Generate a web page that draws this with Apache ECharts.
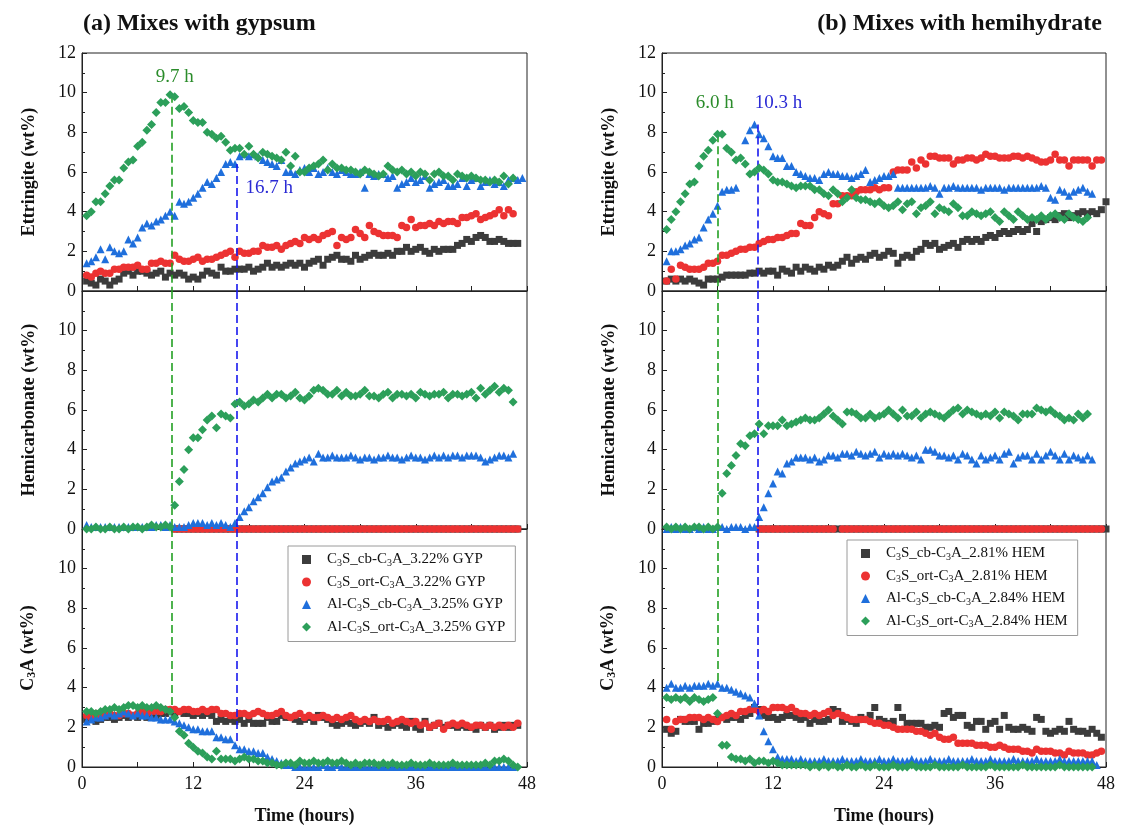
<!DOCTYPE html>
<html>
<head>
<meta charset="utf-8">
<script src="https://cdn.jsdelivr.net/npm/echarts@6/dist/echarts.min.js"></script>
<style>
html,body{margin:0;padding:0;background:#fff;}
#chart{width:1121px;height:828px;}
</style>
</head>
<body>
<div id="chart"></div>
<script>
// ---------- DATA ----------
const T = [0.5,1,1.5,2,2.5,3,3.5,4,4.5,5, 5.5,6,6.5,7,7.5,8,8.5,9,9.5,10, 10.5,11,11.5,12,12.5,13,13.5,14,14.5,15, 15.5,16,16.5,17,17.5,18,18.5,19,19.5,20, 20.5,21,21.5,22,22.5,23,23.5,24,24.5,25, 25.5,26,26.5,27,27.5,28,28.5,29,29.5,30, 30.5,31,31.5,32,32.5,33,33.5,34,34.5,35, 35.5,36,36.5,37,37.5,38,38.5,39,39.5,40, 40.5,41,41.5,42,42.5,43,43.5,44,44.5,45, 45.5,46,46.5,47,47.5,48];

const xTicks = [0,12,24,36,48];

const namesGYP = ['C3S_cb-C3A_3.22% GYP','C3S_ort-C3A_3.22% GYP','Al-C3S_cb-C3A_3.25% GYP','Al-C3S_ort-C3A_3.25% GYP'];
const namesHEM = ['C3S_cb-C3A_2.81% HEM','C3S_ort-C3A_2.81% HEM','Al-C3S_cb-C3A_2.84% HEM','Al-C3S_ort-C3A_2.84% HEM'];

// (a) gypsum - Ettringite
const gEttBlack = [0.5,0.4,0.3,0.6,0.5,0.3,0.5,0.6,0.9,1.0, 0.8,1.0,1.0,0.9,0.8,0.9,1.0,0.7,0.9,0.8, 0.9,0.8,0.6,0.7,0.6,0.8,1.0,0.9,0.8,1.2, 1.0,1.0,1.1,1.1,1.1,1.2,1.0,1.1,1.2,1.4, 1.2,1.3,1.2,1.3,1.4,1.3,1.4,1.2,1.4,1.5, 1.6,1.3,1.6,1.7,1.8,1.6,1.6,1.5,1.8,1.6, 1.7,1.8,1.9,1.8,1.8,1.9,1.8,2.0,2.0,2.2, 2.0,2.1,2.2,2.0,1.9,2.1,2.0,2.1,2.1,2.1, 2.3,2.4,2.6,2.5,2.7,2.8,2.7,2.5,2.5,2.6, 2.5,2.4,2.4,2.4];
const gEttRed = [0.8,0.7,0.9,1.0,0.9,0.9,1.1,1.1,1.2,1.2, 1.2,1.3,1.1,1.1,1.4,1.4,1.5,1.4,1.4,1.8, 1.6,1.5,1.5,1.6,1.7,1.5,1.6,1.6,1.7,1.8, 1.9,2.0,1.7,2.0,1.9,1.9,2.0,2.0,2.3,2.2, 2.2,2.3,2.1,2.3,2.4,2.5,2.4,2.7,2.6,2.7, 2.6,2.8,2.9,3.0,2.3,2.7,2.6,2.7,3.1,2.9, 2.7,3.3,3.0,2.9,2.8,2.8,2.8,2.7,3.3,3.2, 3.6,3.2,3.3,3.3,3.4,3.3,3.5,3.4,3.5,3.5, 3.4,3.7,3.7,3.8,3.9,3.6,3.7,3.8,3.9,4.1, 3.8,4.1,3.9];
const gEttBlue = [1.4,1.5,1.7,2.1,1.6,2.2,2.0,1.9,2.0,2.6, 2.4,2.7,3.2,3.4,3.3,3.5,3.6,3.8,4.0,3.8, 4.5,4.4,4.5,4.7,4.9,5.2,5.5,5.4,5.7,6.0, 6.4,6.5,6.4,6.8,6.9,6.8,6.9,6.8,6.6,6.5, 6.4,6.3,6.6,6.0,6.0,5.9,6.1,6.2,6.0,6.2, 5.9,6.0,6.2,6.0,5.9,6.1,6.0,5.9,5.9,6.0, 5.2,5.9,5.8,5.9,5.9,5.7,5.8,5.2,5.4,5.5, 5.7,5.5,5.6,5.8,5.2,5.4,5.5,5.6,5.3,5.3, 5.4,5.7,5.3,5.6,5.7,5.3,5.5,5.6,5.4,5.5, 5.3,5.6,5.7,5.6,5.7];
const gEttGreen = [3.8,4.0,4.5,4.5,4.9,5.3,5.6,5.6,6.2,6.5, 6.6,7.3,7.5,8.1,8.4,9.0,9.5,9.5,9.9,9.8, 9.2,9.3,9.0,8.6,8.5,8.5,8.0,7.9,7.7,7.8, 7.5,7.1,7.2,7.2,6.9,7.3,6.9,6.7,7.0,6.9, 6.8,6.7,6.6,7.0,6.3,6.8,6.0,6.0,6.2,6.3, 6.4,6.6,6.1,6.4,6.2,6.2,6.1,6.1,6.0,5.9, 6.1,6.0,5.9,5.8,5.9,6.3,6.1,6.0,6.1,5.9, 6.0,5.8,6.0,5.9,5.6,5.9,6.0,5.8,5.8,5.6, 5.9,5.8,5.7,5.8,5.7,5.6,5.6,5.5,5.6,5.5, 5.8,5.4,5.7];

// (a) gypsum - Hemicarbonate
const gHemBlack = [null,null,null,null,null,null,null,null,null,null, null,null,null,null,null,null,null,null,null,0, 0,0,0,0,0,0,0,0,0,0, 0,0,0,0,0,0,0,0,0,0, 0,0,0,0,0,0,0,0,0,0, 0,0,0,0,0,0,0,0,0,0, 0,0,0,0,0,0,0,0,0,0, 0,0,0,0,0,0,0,0,0,0, 0,0,0,0,0,0,0,0,0,0, 0,0,0,0];
const gHemRed = [null,null,null,null,null,null,null,null,null,null, null,null,null,null,null,null,null,null,null,0, 0,0,0,0,0,0,0,0,0,0, 0,0,0,0,0,0,0,0,0,0, 0,0,0,0,0,0,0,0,0,0, 0,0,0,0,0,0,0,0,0,0, 0,0,0,0,0,0,0,0,0,0, 0,0,0,0,0,0,0,0,0,0, 0,0,0,0,0,0,0,0,0,0, 0,0,0,0];
const gHemBlue = [0.2,0.1,0.1,0.1,0.1,0.1,0.1,0.1,0.1,0.1, 0.1,0.1,0.1,0.1,0.1,0.2,0.2,0.1,0.2,0.1, 0.1,0.1,0.2,0.3,0.3,0.3,0.2,0.3,0.2,0.3, 0.2,0.1,0.3,0.6,0.9,1.1,1.4,1.6,1.8,2.1, 2.4,2.5,2.6,2.9,3.1,3.3,3.4,3.5,3.6,3.4, 3.8,3.6,3.6,3.7,3.6,3.6,3.6,3.7,3.6,3.5, 3.6,3.6,3.5,3.6,3.6,3.7,3.6,3.6,3.5,3.6, 3.7,3.6,3.6,3.5,3.6,3.7,3.6,3.7,3.6,3.7, 3.7,3.6,3.7,3.7,3.7,3.6,3.4,3.5,3.6,3.7, 3.7,3.6,3.8];
const gHemGreen = [0.0,0.0,0.1,0.0,0.0,0.1,0.0,0.0,0.1,0.0, 0.1,0.1,0.0,0.1,0.2,0.1,0.1,0.2,0.1,1.2, 2.4,3.0,4.0,4.6,4.6,5.0,5.5,5.7,5.1,5.8, 5.7,5.6,6.3,6.4,6.2,6.3,6.5,6.4,6.6,6.8, 6.6,6.8,6.8,6.6,6.7,6.9,6.6,6.5,6.7,7.0, 7.1,7.0,6.8,6.8,7.0,6.7,6.9,6.7,6.7,6.8, 7.0,6.7,6.7,6.6,6.8,6.9,6.6,6.8,6.8,6.7, 6.8,6.6,6.9,6.8,6.7,6.8,6.8,6.9,6.6,6.8, 6.8,6.7,6.8,6.9,6.6,7.1,6.8,7.0,7.2,6.9, 7.1,7.0,6.4];

// (a) gypsum - C3A
const gC3aBlack = [2.4,2.5,2.3,2.4,2.5,2.5,2.4,2.5,2.6,2.5, 2.6,2.5,2.6,2.5,2.6,2.6,2.7,2.7,2.8,2.7, 2.8,2.7,2.7,2.6,2.7,2.6,2.7,2.6,2.3,2.4, 2.3,2.4,2.3,2.4,2.2,2.4,2.2,2.2,2.2,2.5, 2.3,2.3,2.6,2.5,2.5,2.4,2.3,2.4,2.5,2.3, 2.6,2.5,2.4,2.2,2.1,2.2,2.3,2.2,2.1,2.2, 2.3,2.2,2.5,2.1,2.2,2.0,2.1,2.2,2.1,2.0, 2.3,2.0,1.9,2.3,2.0,2.1,2.2,2.0,2.1,2.1, 2.0,2.1,2.0,2.0,1.9,2.1,2.0,2.1,1.9,2.0, 2.1,2.0,2.1,2.1];
const gC3aRed = [2.6,2.5,2.7,2.5,2.6,2.7,2.6,2.6,2.7,2.7, 2.6,2.7,2.8,2.7,2.8,2.8,2.8,2.9,2.9,2.9, 2.8,2.9,2.9,2.8,2.8,2.9,2.8,2.9,2.9,2.7, 2.7,2.6,2.6,2.7,2.7,2.6,2.7,2.8,2.7,2.6, 2.6,2.7,2.8,2.6,2.5,2.6,2.7,2.5,2.6,2.5, 2.5,2.6,2.5,2.4,2.5,2.4,2.5,2.6,2.4,2.3, 2.4,2.3,2.4,2.3,2.3,2.4,2.2,2.3,2.4,2.3, 2.2,2.3,2.1,2.2,2.0,2.1,2.2,1.9,2.1,2.2, 2.1,2.2,2.1,2.0,2.1,2.1,2.0,2.1,2.0,2.1, 2.0,2.1,2.0,2.2];
const gC3aBlue = [2.3,2.4,2.5,2.5,2.6,2.7,2.6,2.7,2.8,2.7, 2.6,2.7,2.6,2.6,2.5,2.5,2.4,2.4,2.4,2.3, 2.2,2.1,2.0,1.9,1.9,1.8,1.8,1.8,1.5,1.5, 1.4,1.4,1.1,0.9,0.9,0.8,0.8,0.7,0.7,0.5, 0.4,0.3,0.2,0.1,0.1,0.0,0.0,0.0,0.0,0.0, 0.0,0.1,0.0,0.0,0.1,0.0,0.0,0.0,0.0,0.0, 0.0,0.0,0.0,0.0,0.0,0.0,0.0,0.0,0.0,0.0, 0.0,0.0,0.0,0.0,0.0,0.0,0.0,0.0,0.0,0.0, 0.0,0.0,0.0,0.0,0.0,0.0,0.0,0.0,0.0,0.0, 0.0,0.0,0.0];
const gC3aGreen = [2.8,2.8,2.7,2.8,2.9,2.9,3.0,2.9,3.0,3.1, 3.1,3.0,3.1,3.0,3.0,3.1,3.0,2.9,2.8,2.5, 1.8,1.6,1.2,1.0,0.8,0.7,0.5,0.4,0.8,0.4, 0.4,0.4,0.3,0.4,0.5,0.4,0.4,0.3,0.3,0.2, 0.2,0.1,0.1,0.2,0.2,0.1,0.3,0.2,0.2,0.3, 0.2,0.2,0.3,0.2,0.2,0.3,0.2,0.1,0.2,0.1, 0.2,0.2,0.2,0.1,0.2,0.1,0.2,0.1,0.1,0.1, 0.2,0.1,0.1,0.1,0.2,0.1,0.1,0.1,0.1,0.2, 0.1,0.1,0.1,0.1,0.1,0.1,0.2,0.1,0.3,0.3, 0.4,0.3,0.1,0.0];

// (b) hemihydrate - Ettringite
const hEttBlack = [0.5,0.6,0.5,0.6,0.5,0.6,0.5,0.4,0.3,0.6, 0.6,0.6,0.7,0.8,0.8,0.8,0.8,0.8,0.9,0.9, 1.0,0.9,1.0,1.0,0.8,1.1,1.0,0.9,1.2,1.0, 1.2,1.1,1.0,1.2,1.1,1.3,1.2,1.3,1.5,1.7, 1.4,1.6,1.7,1.6,1.8,1.9,1.7,1.8,2.0,1.9, 1.4,1.7,1.8,1.7,2.0,2.1,2.4,2.3,2.4,2.1, 2.2,2.3,2.4,2.2,2.5,2.6,2.5,2.6,2.5,2.7, 2.8,2.7,2.9,3.0,2.9,3.0,3.1,3.0,3.1,3.4, 3.0,3.5,3.6,3.7,3.6,3.8,3.9,3.7,3.8,3.9, 4.0,3.9,4.0,3.9,4.1,4.5];
const hEttRed = [0.5,1.1,0.6,1.3,1.2,1.1,1.1,1.1,1.2,1.4, 1.4,1.5,1.8,1.8,1.9,2.0,2.1,2.1,2.2,2.2, 2.4,2.5,2.6,2.6,2.7,2.7,2.8,2.9,2.9,3.4, 3.3,3.3,3.7,4.0,3.9,3.8,4.4,4.4,4.8,4.8, 4.8,5.0,5.1,5.1,5.1,5.2,5.1,5.2,5.2,6.0, 6.1,6.1,6.1,6.5,6.2,6.6,6.4,6.8,6.8,6.7, 6.7,6.7,6.4,6.6,6.6,6.7,6.7,6.6,6.7,6.9, 6.8,6.8,6.7,6.7,6.7,6.8,6.8,6.7,6.8,6.7, 6.6,6.5,6.5,6.6,6.9,6.6,6.6,6.3,6.6,6.6, 6.6,6.6,6.3,6.6,6.6];
const hEttBlue = [1.5,2.0,2.0,2.1,2.3,2.4,2.6,2.7,3.2,3.6, 3.9,4.3,5.0,5.1,5.1,5.2,null,7.6,8.1,8.4, 7.9,7.7,7.3,6.8,6.7,6.7,6.3,6.3,6.0,5.9, 5.8,5.7,5.7,5.6,5.9,6.0,5.9,5.9,5.8,5.8, 5.7,5.8,5.9,6.1,5.5,5.6,5.7,5.8,5.8,5.9, 5.2,5.2,5.2,5.2,5.2,5.2,5.2,5.3,5.2,4.9, 5.2,5.2,5.3,5.2,5.2,5.2,5.2,5.2,5.1,5.2, 5.2,5.2,5.2,5.1,5.2,5.2,5.2,5.2,5.2,5.2, 5.2,5.3,5.2,4.7,4.6,5.1,5.0,4.8,5.0,5.1, 5.2,5.0,4.9];
const hEttGreen = [3.1,3.6,4.0,4.5,4.9,5.4,5.5,6.3,6.8,7.1, 7.6,7.9,7.9,7.2,7.0,6.6,6.7,6.4,5.9,6.0, 6.2,6.1,5.9,5.6,5.5,5.5,5.4,5.3,5.2,5.3, 5.3,5.3,5.1,5.1,4.9,4.8,5.1,4.9,4.5,4.7, 5.1,4.7,4.6,4.6,4.5,4.4,4.5,4.3,4.2,4.3, 4.5,4.1,4.4,4.5,3.9,4.2,4.3,4.5,3.9,4.2, 4.1,4.0,4.4,4.2,3.8,3.8,4.0,3.9,3.8,3.9, 4.0,3.7,3.5,4.0,3.8,3.6,4.0,3.8,3.6,3.7, 3.6,3.8,3.6,3.8,3.9,3.7,3.6,3.9,3.7,3.6, 3.5,3.7];

// (b) hemihydrate - Hemicarbonate
const hHemBlack = [null,null,null,null,null,null,null,null,null,null, null,null,null,null,null,null,null,null,null,null, 0,0,0,0,0,0,0,0,0,0, 0,0,0,0,0,0,0,0,0,0, 0,0,0,0,0,0,0,0,0,0, 0,0,0,0,0,0,0,0,0,0, 0,0,0,0,0,0,0,0,0,0, 0,0,0,0,0,0,0,0,0,0, 0,0,0,0,0,0,0,0,0,0, 0,0,0,0,0,0];
const hHemRed = [null,null,null,null,null,null,null,null,null,null, null,null,null,null,null,null,null,null,null,null, 0,0,0,0,0,0,0,0,0,0, 0,0,0,0,0,0,0,null,0,0, 0,0,0,0,0,0,0,0,0,0, 0,0,0,0,0,0,0,0,0,0, 0,0,0,0,0,0,0,0,0,0, 0,0,0,0,0,0,0,0,0,0, 0,0,0,0,0,0,0,0,0,0, 0,0,0,0,0];
const hHemBlue = [0.0,0.1,0.0,0.1,0.0,0.0,0.1,0.0,0.1,0.0, 0.0,0.1,0.1,0.0,0.1,0.1,0.1,0.0,0.1,0.1, 0.6,1.1,1.8,2.3,2.9,2.8,3.3,3.4,3.6,3.6, 3.6,3.5,3.6,3.4,3.5,3.7,3.7,3.6,3.8,3.8, 3.7,3.9,3.8,3.7,3.8,3.9,3.6,3.8,3.7,3.8, 3.7,3.8,3.7,3.6,3.7,3.5,4.0,4.0,3.9,3.7, 3.7,3.6,3.7,3.5,3.8,3.7,3.5,3.3,3.7,3.5, 3.6,3.7,3.5,3.8,3.9,3.3,3.6,3.7,3.7,3.5, 3.8,3.5,3.7,3.9,3.7,3.5,3.8,3.5,3.7,3.6, 3.5,3.7,3.5];
const hHemGreen = [0.1,0.0,0.1,0.0,0.1,0.0,0.1,0.1,0.0,0.1, 0.0,0.1,1.8,2.8,3.2,3.7,4.3,4.2,4.7,4.8, 5.3,4.8,5.2,5.2,5.2,5.5,5.2,5.3,5.4,5.5, 5.6,5.5,5.5,5.6,5.8,6.0,5.7,5.5,5.3,5.9, 5.9,5.8,5.6,5.6,5.8,5.6,5.7,5.8,6.0,5.8, 5.6,6.0,5.7,5.7,5.9,5.6,5.8,5.9,5.8,5.7, 5.6,5.8,6.0,6.1,5.8,6.0,5.9,5.8,5.7,5.8, 5.7,5.9,5.6,5.9,5.8,5.7,5.5,5.8,5.8,5.8, 6.1,6.0,5.9,6.0,5.8,5.7,5.5,5.6,5.5,5.8, 5.6,5.8];

// (b) hemihydrate - C3A
const hC3aBlack = [1.9,1.7,1.8,2.4,2.3,2.3,2.3,1.9,2.2,2.2, 2.3,2.4,2.5,2.4,2.5,2.5,2.4,2.6,2.7,3.0, 2.9,2.6,2.5,2.5,2.4,2.5,2.6,2.6,2.5,2.4, 2.5,2.2,2.4,2.3,2.3,2.4,2.9,2.8,2.3,2.4, 2.3,2.2,2.5,2.4,2.6,3.0,2.4,2.3,2.2,2.3, 3.0,2.5,2.2,2.2,2.2,2.2,2.0,2.0,2.1,2.0, 2.7,2.8,2.5,2.6,2.6,2.1,2.0,2.3,2.3,1.9, 2.2,2.3,1.9,2.6,2.0,1.9,1.9,2.0,1.9,1.8, 2.5,2.4,1.8,1.7,1.8,1.9,1.8,2.3,1.9,1.8, 1.8,1.7,1.9,1.7,1.5];
const hC3aRed = [2.4,1.9,2.3,2.4,2.4,2.5,2.5,2.5,2.4,2.5, 2.4,2.3,2.5,2.6,2.7,2.6,2.8,2.8,2.9,2.9, 2.8,2.9,2.8,3.0,3.0,3.0,2.9,3.0,2.8,2.7, 2.7,2.6,2.7,2.6,2.7,2.8,2.6,2.7,2.6,2.5, 2.4,2.4,2.4,2.4,2.3,2.2,2.2,2.1,2.1,2.0, 1.9,1.9,1.9,1.9,1.8,1.8,1.7,1.6,1.7,1.5, 1.4,1.4,1.5,1.2,1.2,1.2,1.2,1.1,1.1,1.1, 1.0,1.0,1.1,1.0,0.9,0.9,0.9,0.8,0.8,0.7, 0.9,0.8,0.8,0.8,0.7,0.7,0.6,0.8,0.7,0.7, 0.7,0.6,0.6,0.7,0.8];
const hC3aBlue = [4.0,4.2,4.0,4.0,4.1,4.0,4.1,4.1,4.1,4.2, 4.1,4.2,4.0,4.0,3.9,3.8,3.7,3.6,3.5,3.2, 2.6,1.8,1.3,0.9,0.5,0.4,0.4,0.4,0.3,0.4, 0.3,0.3,0.3,0.3,0.4,0.3,0.3,0.3,0.4,0.3, 0.3,0.3,0.4,0.3,0.3,0.3,0.4,0.3,0.3,0.4, 0.3,0.3,0.3,0.4,0.3,0.3,0.3,0.4,0.3,0.3, 0.3,0.4,0.3,0.3,0.3,0.3,0.4,0.3,0.3,0.3, 0.4,0.3,0.3,0.3,0.3,0.4,0.3,0.3,0.3,0.3, 0.4,0.3,0.3,0.3,0.3,0.4,0.3,0.3,0.3,0.3, 0.3,0.3,0.3,0.1];
const hC3aGreen = [3.5,3.4,3.5,3.4,3.5,3.3,3.5,3.4,3.3,3.4, 3.5,2.7,1.1,1.1,0.5,0.4,0.4,0.3,0.4,0.2, 0.3,0.3,0.2,0.3,0.2,0.1,0.1,0.1,0.1,0.1, 0.1,0.0,0.1,0.0,0.1,0.0,0.1,0.0,0.0,0.1, 0.0,0.0,0.1,0.0,0.0,0.1,0.0,0.0,0.0,0.1, 0.0,0.0,0.0,0.1,0.0,0.0,0.0,0.0,0.1,0.0, 0.0,0.0,0.0,0.0,0.1,0.0,0.0,0.0,0.0,0.0, 0.1,0.0,0.0,0.0,0.0,0.0,0.0,0.1,0.0,0.0, 0.0,0.0,0.0,0.0,0.0,0.1,0.0,0.0,0.0,0.0, 0.0,0.0,0.0];

// dashed guide lines: [time, top value in Ettringite panel, bottom value in C3A panel]
const guideGYP = [[9.7, 9.9, 2.7], [16.7, 6.4, 1.1]];
const guideHEM = [[6.0, 7.9, 4.2], [10.3, 8.4, 2.6]];
// annotation labels: [text, time, value]
const noteGYP = [['9.7 h', 10.0, 10.8], ['16.7 h', 20.2, 5.2]];
const noteHEM = [['6.0 h', 5.7, 9.5], ['10.3 h', 12.6, 9.5]];

const yNames = ['Ettringite (wt%)', 'Hemicarbonate (wt%)', 'C{s|3}A (wt%)'];
const titles = ['(a) Mixes with gypsum', '(b) Mixes with hemihydrate'];

// ---------- STYLE ----------
const SERIF = '"Liberation Serif","Times New Roman",serif';
const SYM = ['rect','circle','triangle','diamond'];
const SSIZE = [7,7.5,8,9];
const COL = ['#3c3c3c','#ec3232','#1f6fdc','#2c9f5a'];
const GUIDE_COL = ['#23a023','#1818ee'];
const NOTE_COL = ['#2b8c2b','#2a2ad4'];
const TXT = '#111';

const columns = [
  {names: namesGYP, left: 82, width: 445,
   panels: [[gEttBlack,gEttRed,gEttBlue,gEttGreen],[gHemBlack,gHemRed,gHemBlue,gHemGreen],[gC3aBlack,gC3aRed,gC3aBlue,gC3aGreen]],
   guide: guideGYP, note: noteGYP, legend: {left: 288, top: 546}},
  {names: namesHEM, left: 662, width: 444,
   panels: [[hEttBlack,hEttRed,hEttBlue,hEttGreen],[hHemBlack,hHemRed,hHemBlue,hHemGreen],[hC3aBlack,hC3aRed,hC3aBlue,hC3aGreen]],
   guide: guideHEM, note: noteHEM, legend: {left: 847, top: 540}}
];
const TOPS = [53, 291, 529];
const PH = 238;

function pts(arr){
  const out = [];
  arr.forEach((v,i)=>{ if(v !== null && v !== undefined) out.push([T[i], v]); });
  return out;
}

const grids = [], xAxes = [], yAxes = [], series = [], legends = [];
columns.forEach((col, c) => {
  TOPS.forEach((top, p) => {
    const gi = c*3 + p;
    grids.push({left: col.left, width: col.width, top: top, height: PH, show: true,
      borderColor: '#222', borderWidth: 1, backgroundColor: 'transparent'});
    const bottom = p === 2;
    xAxes.push({gridIndex: gi, type: 'value', min: xTicks[0], max: xTicks[xTicks.length-1], interval: 12,
      axisLine: {show: true, onZero: false, lineStyle: {color: '#222', width: 1}},
      axisTick: {show: true, inside: true, length: 5, lineStyle: {color: '#222'}},
      minorTick: {show: true, splitNumber: 2, length: 5, lineStyle: {color: '#222'}},
      splitLine: {show: false},
      axisLabel: {show: bottom, fontFamily: SERIF, fontSize: 18, color: TXT, margin: 8},
      name: bottom ? 'Time (hours)' : '', nameLocation: 'middle', nameGap: 40,
      nameTextStyle: {fontFamily: SERIF, fontSize: 18, fontWeight: 'bold', color: TXT}
    });
    yAxes.push({gridIndex: gi, type: 'value', min: 0, max: 12, interval: 2,
      axisLine: {show: true, lineStyle: {color: '#222', width: 1}},
      axisTick: {show: true, inside: true, length: 5, lineStyle: {color: '#222'}},
      minorTick: {show: true, splitNumber: 2, length: 3, lineStyle: {color: '#222'}},
      splitLine: {show: false},
      axisLabel: {fontFamily: SERIF, fontSize: 18, color: TXT, margin: 6, showMaxLabel: p === 0},
      name: yNames[p], nameLocation: 'middle', nameGap: 44,
      nameTextStyle: {fontFamily: SERIF, fontSize: 18, fontWeight: 'bold', color: TXT,
        rich: {s: {fontFamily: SERIF, fontSize: 12, fontWeight: 'bold', color: TXT, verticalAlign: 'bottom', padding: [7,0,0,0]}}}
    });
    col.panels[p].forEach((arr, k) => {
      const s = {type: 'scatter', name: col.names[k], xAxisIndex: gi, yAxisIndex: gi,
        data: pts(arr), symbol: SYM[k], symbolSize: SSIZE[k],
        itemStyle: {color: COL[k], opacity: 1}, z: 2 + k, animation: false, silent: true};
      const gIdx = k === 3 ? 0 : (k === 2 ? 1 : -1);
      if (gIdx >= 0) {
        const g = col.guide[gIdx];
        const y0 = p === 0 ? g[1] : 12;
        const y1 = p === 2 ? g[2] : 0;
        s.markLine = {silent: true, symbol: ['none','none'], animation: false,
          lineStyle: {type: [8,4], color: GUIDE_COL[gIdx], width: 1.6},
          label: {show: false},
          data: [[{coord: [g[0], y0]}, {coord: [g[0], y1]}]]};
        if (p === 0) {
          const n = col.note[gIdx];
          s.markPoint = {silent: true, animation: false, symbol: 'circle', symbolSize: 1,
            itemStyle: {color: 'transparent'},
            label: {show: true, position: 'inside', formatter: n[0], fontFamily: SERIF, fontSize: 19, color: NOTE_COL[gIdx]},
            data: [{coord: [n[1], n[2]]}]};
        }
      }
      series.push(s);
    });
  });
  legends.push({orient: 'vertical', left: col.legend.left, top: col.legend.top, data: col.names,
    padding: [6, 10, 6, 14], itemGap: 6.5, itemWidth: 9, itemHeight: 9,
    borderColor: '#9a9a9a', borderWidth: 1, backgroundColor: '#fff', selectedMode: false,
    textStyle: {fontFamily: SERIF, fontSize: 15, color: TXT,
      rich: {g: {width: 11}, t: {fontFamily: SERIF, fontSize: 15, color: TXT},
             s: {fontFamily: SERIF, fontSize: 10, color: TXT, verticalAlign: 'bottom', padding: [7,0,0,0]}}},
    formatter: n => '{g|}{t|' + n.replace(/C3/g, 'C}{s|3}{t|') + '}'
  });
});

const option = {
  animation: false,
  backgroundColor: '#fff',
  title: [
    {text: titles[0], left: 78, top: 7, textStyle: {fontFamily: SERIF, fontSize: 24, fontWeight: 'bold', color: TXT}},
    {text: titles[1], right: 14, top: 7, textStyle: {fontFamily: SERIF, fontSize: 24, fontWeight: 'bold', color: TXT}}
  ],
  grid: grids, xAxis: xAxes, yAxis: yAxes, legend: legends, series: series
};
const chart = echarts.init(document.getElementById('chart'), null, {renderer: 'canvas'});
chart.setOption(option);
</script>
</body>
</html>
